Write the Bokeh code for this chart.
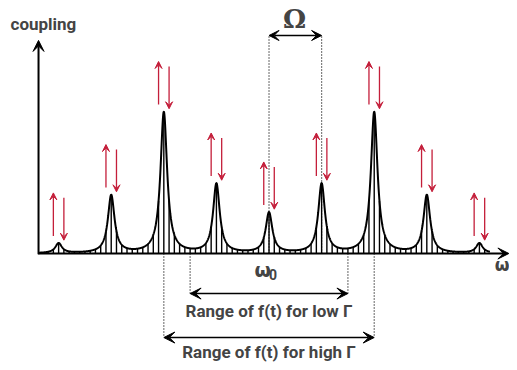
import numpy as np
from bokeh.plotting import figure
from bokeh.models import Range1d, Arrow, VeeHead, Label, ColumnDataSource
from bokeh.embed import file_html
from bokeh.resources import INLINE

# ---- data (frequency in units of Omega, relative to omega_0) ----
peak_pos = [-4, -3, -2, -1, 0, 1, 2, 3, 4]
peak_amp = [0.07, 0.41, 1.0, 0.49, 0.285, 0.49, 1.0, 0.41, 0.07]
gamma = 0.076
low_range = [-1.5, 1.5]
high_range = [-2, 2]
omega_marks = [0, 1]
labels = ["coupling", "Ω", "ω", "0", "ω", "Range of f(t) for low Γ", "Range of f(t) for high Γ"]

FONT = "Roboto"


def coupling(w):
    w = np.asarray(w, dtype=float)
    tot = np.zeros_like(w)
    for c, a in zip(peak_pos, peak_amp):
        tot += a * gamma**2 / (gamma**2 + (w - c) ** 2)
    return tot


p = figure(width=509, height=362, x_range=Range1d(-5.105, 4.572),
           y_range=Range1d(-0.773, 1.794), output_backend="svg",
           toolbar_location=None, x_axis_type=None, y_axis_type=None,
           min_border=0, outline_line_color=None)

# hatch lines under the curve
hx = np.arange(-42, 42) * 0.1
p.segment(x0=hx, y0=np.zeros_like(hx), x1=hx, y1=coupling(hx),
          line_color="black", line_width=1.4)

# curve
cx = np.linspace(-4.38, 4.2, 2000)
p.line(cx, coupling(cx), line_color="black", line_width=2)

# axes
p.add_layout(Arrow(end=VeeHead(size=11, fill_color="black", line_color="black"),
                   x_start=-4.382, y_start=-0.005, x_end=-4.382, y_end=1.511,
                   line_width=2, line_color="black"))
p.add_layout(Arrow(end=VeeHead(size=11, fill_color="black", line_color="black"),
                   x_start=-4.39, y_start=0, x_end=4.56, y_end=0,
                   line_width=2, line_color="black"))

# red spin arrows
tops = coupling(peak_pos)
pos = np.array(peak_pos, dtype=float)
up_src = ColumnDataSource(dict(xs=pos - 0.1, ys=tops + 0.05, xe=pos - 0.1, ye=tops + 0.355))
dn_src = ColumnDataSource(dict(xs=pos + 0.1, ys=tops + 0.32, xe=pos + 0.1, ye=tops + 0.02))
red = "#c41e3a"
for src in (up_src, dn_src):
    p.add_layout(Arrow(end=VeeHead(size=7, fill_color=red, line_color=red, line_width=1),
                       x_start="xs", y_start="ys", x_end="xe", y_end="ye",
                       source=src, line_color=red, line_width=1.3))

# Omega dotted lines and arrow
for xm in omega_marks:
    p.line([xm, xm], [0, 1.546], line_color="black", line_width=1.2, line_dash="1 2")
p.add_layout(Arrow(start=VeeHead(size=10, fill_color="black"), end=VeeHead(size=10, fill_color="black"),
                   x_start=omega_marks[0], y_start=1.546, x_end=omega_marks[1], y_end=1.546,
                   line_width=1.5, line_color="black"))

# ranges
for rng, yy in ((low_range, -0.284), (high_range, -0.596)):
    for xm in rng:
        p.line([xm, xm], [0, yy], line_color="black", line_width=1.2, line_dash="1 2")
    p.add_layout(Arrow(start=VeeHead(size=11, fill_color="black"), end=VeeHead(size=11, fill_color="black"),
                       x_start=rng[0], y_start=yy, x_end=rng[1], y_end=yy,
                       line_width=1.5, line_color="black"))

# texts
p.add_layout(Label(x=-4.914, y=1.624, text=labels[0], text_font=FONT, text_font_style="bold",
                   text_font_size="17px", text_align="left", text_baseline="alphabetic"))
p.add_layout(Label(x=0.485, y=1.66, text=labels[1], text_font="DejaVu Serif", text_font_style="bold",
                   text_font_size="26px", text_align="center", text_baseline="alphabetic"))
p.add_layout(Label(x=-0.12, y=-0.114, text=labels[2], text_font="DejaVu Sans", text_font_style="bold",
                   text_font_size="19px", text_align="center", text_baseline="alphabetic"))
p.add_layout(Label(x=0.0, y=-0.149, text=labels[3], text_font=FONT, text_font_style="bold",
                   text_font_size="14px", text_align="left", text_baseline="alphabetic"))
p.add_layout(Label(x=4.43, y=-0.085, text=labels[4], text_font="DejaVu Sans", text_font_style="bold",
                   text_font_size="17px", text_align="center", text_baseline="alphabetic"))
p.add_layout(Label(x=0.0, y=-0.407, text=labels[5], text_font=FONT, text_font_style="bold",
                   text_font_size="17px", text_align="center", text_baseline="alphabetic"))
p.add_layout(Label(x=0.0, y=-0.697, text=labels[6], text_font=FONT, text_font_style="bold",
                   text_font_size="17px", text_align="center", text_baseline="alphabetic"))

open("out.html", "w").write(file_html(p, INLINE))
